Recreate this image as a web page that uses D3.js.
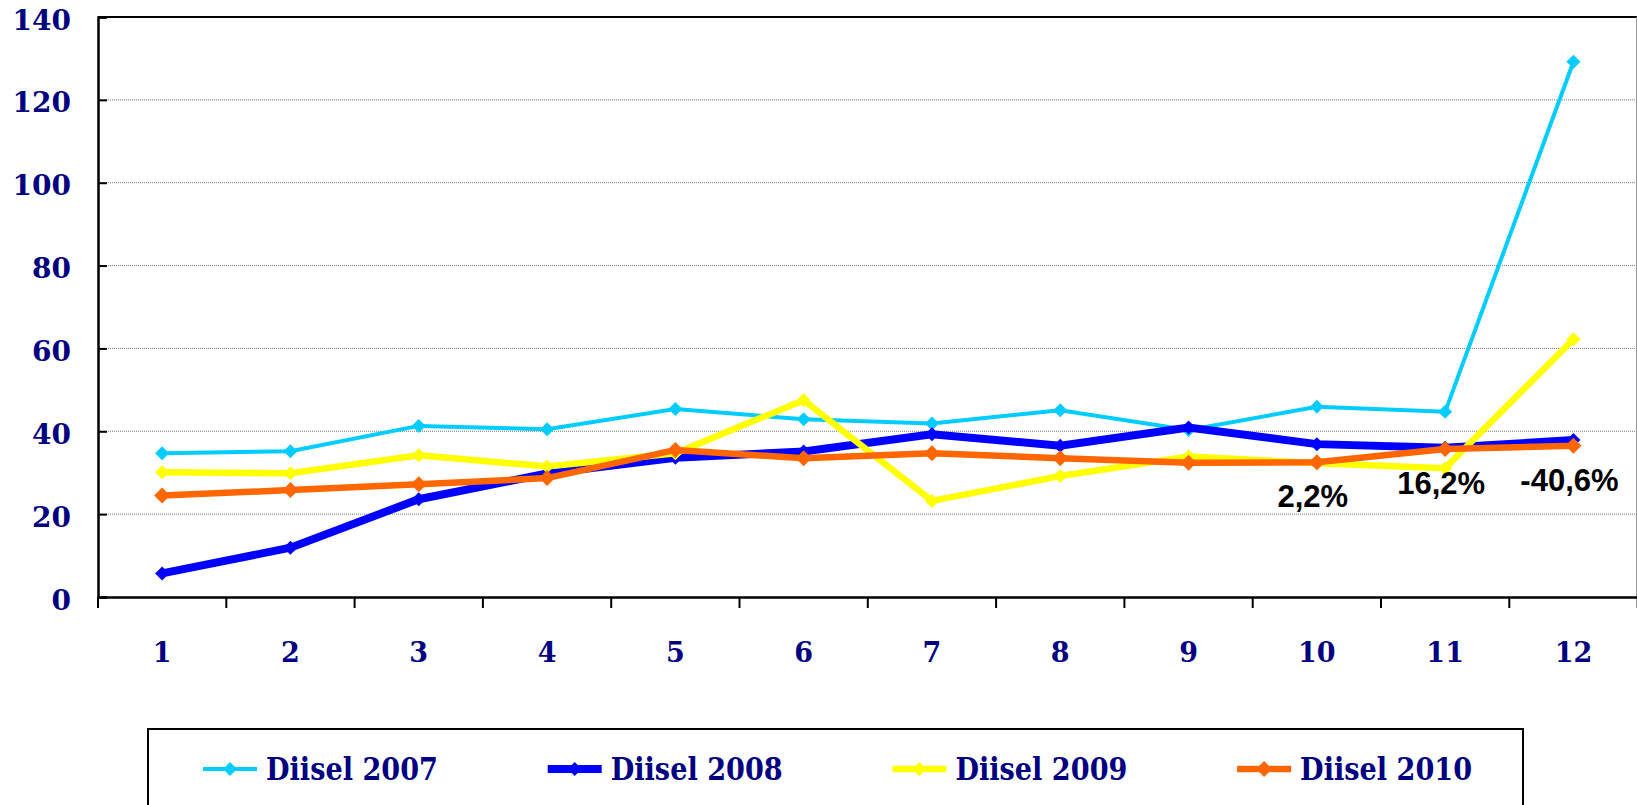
<!DOCTYPE html>
<html>
<head>
<meta charset="utf-8">
<script src="https://cdn.jsdelivr.net/npm/d3@7"></script>
<style>
  html, body { margin: 0; padding: 0; background: #fff; overflow: hidden; }
  svg { display: block; }
</style>
</head>
<body>
<svg id="chart" width="1637" height="805"></svg>
<script>
// ---- data ----
const months = [1, 2, 3, 4, 5, 6, 7, 8, 9, 10, 11, 12];
const seriesNames = ["Diisel 2007", "Diisel 2008", "Diisel 2009", "Diisel 2010"];
const diisel2007 = [34.7, 35.2, 41.3, 40.5, 45.4, 42.9, 41.9, 45.1, 40.3, 45.9, 44.7, 129.2];
const diisel2008 = [5.7, 11.9, 23.6, 29.8, 33.6, 35.1, 39.3, 36.5, 40.9, 36.9, 36.0, 37.9];
const diisel2009 = [30.1, 29.9, 34.2, 31.5, 34.7, 47.5, 23.2, 29.2, 33.9, 32.3, 31.1, 62.2];
const diisel2010 = [24.5, 25.8, 27.2, 28.7, 35.5, 33.5, 34.7, 33.5, 32.4, 32.5, 35.7, 36.5];
const yTicks = [0, 20, 40, 60, 80, 100, 120, 140];
const changeLabels = ["2,2%", "16,2%", "-40,6%"];
const changeMonths = [10, 11, 12];

// ---- styles ----
const colors = ["#00CCFF", "#0000FF", "#FFFF00", "#FF6600"];
const widths = [4, 8, 6.5, 6.5];
const markerR = [7, 7, 7, 8];
const navy = "#000080";
const serif = "Georgia, 'DejaVu Serif', serif";

const svg = d3.select("#chart");
const mLeft = 98, mTop = 17, mBottom = 597, bandW = 128.3;
const x = d3.scaleBand().domain(months).range([mLeft, mLeft + bandW * months.length]).paddingInner(0).paddingOuter(0);
const y = d3.scaleLinear().domain([0, 140]).range([mBottom, mTop]);
const cx = m => x(m) + x.bandwidth() / 2;

svg.append("rect").attr("width", 1637).attr("height", 805).attr("fill", "#fff");

// gridlines
svg.append("g").selectAll("line").data(yTicks.filter(t => t > 0 && t < 140)).join("line")
  .attr("x1", mLeft).attr("x2", 1637)
  .attr("y1", d => y(d)).attr("y2", d => y(d))
  .attr("stroke", "#7a7a7a").attr("stroke-width", 1).attr("stroke-dasharray", "1,1");

// top border
svg.append("line").attr("x1", mLeft).attr("x2", 1637).attr("y1", y(140)).attr("y2", y(140))
  .attr("stroke", "#000").attr("stroke-width", 2);
// right border
svg.append("line").attr("x1", 1636.5).attr("x2", 1636.5).attr("y1", y(140)).attr("y2", y(0))
  .attr("stroke", "#999").attr("stroke-width", 1);

// y axis
const yAxis = d3.axisLeft(y).tickValues(yTicks).tickSize(-9).tickPadding(0).tickFormat(d3.format("d"));
const gy = svg.append("g").attr("transform", `translate(${mLeft},0)`).call(yAxis);
gy.select(".domain").attr("stroke", "#000").attr("stroke-width", 2.5);
gy.selectAll(".tick line").attr("stroke", "#000").attr("stroke-width", 2);
gy.selectAll(".tick text")
  .attr("x", 71 - mLeft).attr("dy", null).attr("y", 12)
  .attr("text-anchor", "end")
  .attr("fill", navy).attr("font-family", serif).attr("font-weight", "bold").attr("font-size", 28);

// x axis
const xAxis = d3.axisBottom(x).tickSize(0).tickPadding(0);
const gx = svg.append("g").attr("transform", `translate(0,${mBottom})`).call(xAxis);
gx.select(".domain").attr("stroke", "#000").attr("stroke-width", 2.5);
gx.selectAll(".tick text")
  .attr("y", 65).attr("dy", null)
  .attr("fill", navy).attr("font-family", serif).attr("font-weight", "bold").attr("font-size", 27);
// category boundary ticks
const bounds = months.map(m => x(m)).concat([x(months[months.length - 1]) + x.bandwidth()]);
svg.append("g").selectAll("line").data(bounds).join("line")
  .attr("x1", d => d).attr("x2", d => d).attr("y1", mBottom).attr("y2", mBottom + 11)
  .attr("stroke", "#000").attr("stroke-width", 2);

// series
const allSeries = [diisel2007, diisel2008, diisel2009, diisel2010];
const line = d3.line().x((d, i) => cx(months[i])).y(d => y(d));
const diamond = (px, py, r) => `M${px},${py - r}L${px + r},${py}L${px},${py + r}L${px - r},${py}Z`;

allSeries.forEach((vals, s) => {
  const g = svg.append("g");
  g.append("path").datum(vals).attr("d", line)
    .attr("fill", "none").attr("stroke", colors[s]).attr("stroke-width", widths[s])
    .attr("stroke-linejoin", "miter");
  g.selectAll("path.m").data(vals).join("path").attr("class", "m")
    .attr("d", (d, i) => diamond(cx(months[i]), y(d), markerR[s]))
    .attr("fill", colors[s]);
});

// change labels
svg.append("g").selectAll("text").data(changeLabels).join("text")
  .attr("x", (d, i) => cx(changeMonths[i]) - 4)
  .attr("y", (d, i) => y(diisel2010[months.indexOf(changeMonths[i])]) + 45)
  .attr("text-anchor", "middle")
  .attr("font-family", "Arial, 'Liberation Sans', sans-serif").attr("font-weight", "bold")
  .attr("font-size", 31).attr("fill", "#000")
  .text(d => d);

// legend
svg.append("rect").attr("x", 148).attr("y", 729).attr("width", 1375).attr("height", 120)
  .attr("fill", "#fff").attr("stroke", "#000").attr("stroke-width", 2);
const legX0 = 203, legStep = 344.7, legY = 769;
const lg = svg.append("g").selectAll("g").data(seriesNames).join("g")
  .attr("transform", (d, i) => `translate(${legX0 + i * legStep},${legY})`);
lg.append("line").attr("x1", 0).attr("x2", 54).attr("y1", 0).attr("y2", 0)
  .attr("stroke", (d, i) => colors[i]).attr("stroke-width", (d, i) => widths[i]);
lg.append("path").attr("d", (d, i) => diamond(27, 0, markerR[i])).attr("fill", (d, i) => colors[i]);
lg.append("text").attr("x", 63).attr("y", 11)
  .attr("font-family", serif).attr("font-weight", "bold").attr("font-size", 32)
  .attr("fill", navy)
  .attr("textLength", 172).attr("lengthAdjust", "spacingAndGlyphs")
  .text(d => d);
</script>
</body>
</html>
